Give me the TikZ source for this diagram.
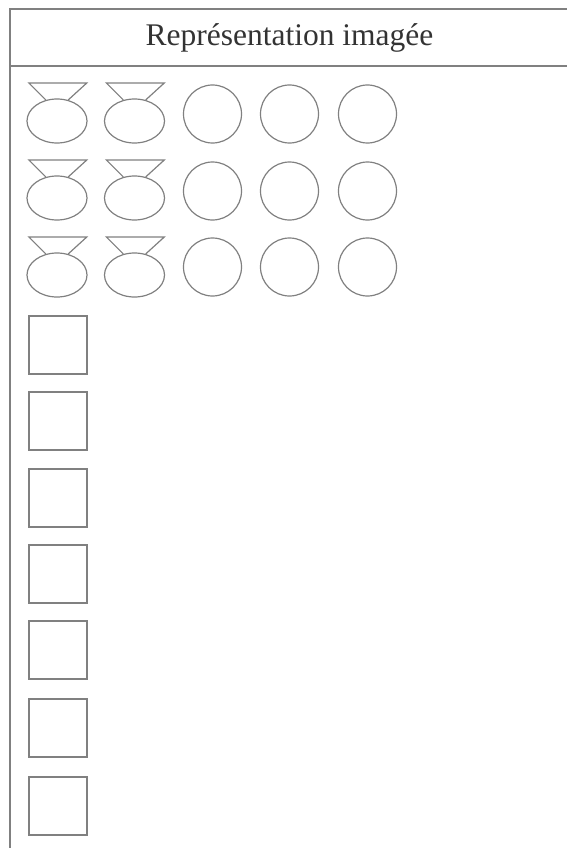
\documentclass[tikz,border=0pt]{standalone}
\usepackage{fontspec}
\setmainfont{Liberation Serif}
\usetikzlibrary{shapes.geometric}

\begin{document}
\begin{tikzpicture}[
    x=1pt,y=-1pt,
    line width=1.2pt,
    rule/.style={draw=black!50,line width=1.3pt},
    cup/.style={ellipse,draw=black!50,minimum width=60pt,minimum height=44pt,inner sep=0pt},
    ball/.style={circle,draw=black!50,minimum size=58pt,inner sep=0pt},
    sq/.style={rectangle,draw=black!50,minimum size=58pt,inner sep=0pt}
]
\useasboundingbox (0,0) rectangle (567,848);
% frame and header
\coordinate (tl) at (10,9);
\coordinate (tr) at (567,9);
\coordinate (bl) at (10,848);
\coordinate (hl) at (10,66);
\coordinate (hr) at (567,66);
\draw[rule] (bl) -- (tl) -- (tr);
\draw[rule] (hl) -- (hr);
\node[font=\fontsize{31.5}{36}\selectfont,text=black!80,anchor=base] (title) at (289.5,45.5) {Représentation imagée};

% row 1
\node[cup] (c11) at (57,121) {};
\node[cup] (c12) at (134.5,121) {};
\node[ball] (b13) at (212.5,114) {};
\node[ball] (b14) at (289.5,114) {};
\node[ball] (b15) at (367.5,114) {};
% row 2
\node[cup] (c21) at (57,198) {};
\node[cup] (c22) at (134.5,198) {};
\node[ball] (b23) at (212.5,191) {};
\node[ball] (b24) at (289.5,191) {};
\node[ball] (b25) at (367.5,191) {};
% row 3
\node[cup] (c31) at (57,275) {};
\node[cup] (c32) at (134.5,275) {};
\node[ball] (b33) at (212.5,267) {};
\node[ball] (b34) at (289.5,267) {};
\node[ball] (b35) at (367.5,267) {};

% funnels on the cups
\draw[black!50] (c11.118) -- ++(-17,-17) -- ++(58,0) -- (c11.62);
\draw[black!50] (c12.118) -- ++(-17,-17) -- ++(58,0) -- (c12.62);
\draw[black!50] (c21.118) -- ++(-17,-17) -- ++(58,0) -- (c21.62);
\draw[black!50] (c22.118) -- ++(-17,-17) -- ++(58,0) -- (c22.62);
\draw[black!50] (c31.118) -- ++(-17,-17) -- ++(58,0) -- (c31.62);
\draw[black!50] (c32.118) -- ++(-17,-17) -- ++(58,0) -- (c32.62);

% squares
\node[sq] (s1) at (58,345) {};
\node[sq] (s2) at (58,421) {};
\node[sq] (s3) at (58,498) {};
\node[sq] (s4) at (58,574) {};
\node[sq] (s5) at (58,650) {};
\node[sq] (s6) at (58,728) {};
\node[sq] (s7) at (58,806) {};
\end{tikzpicture}
\end{document}
